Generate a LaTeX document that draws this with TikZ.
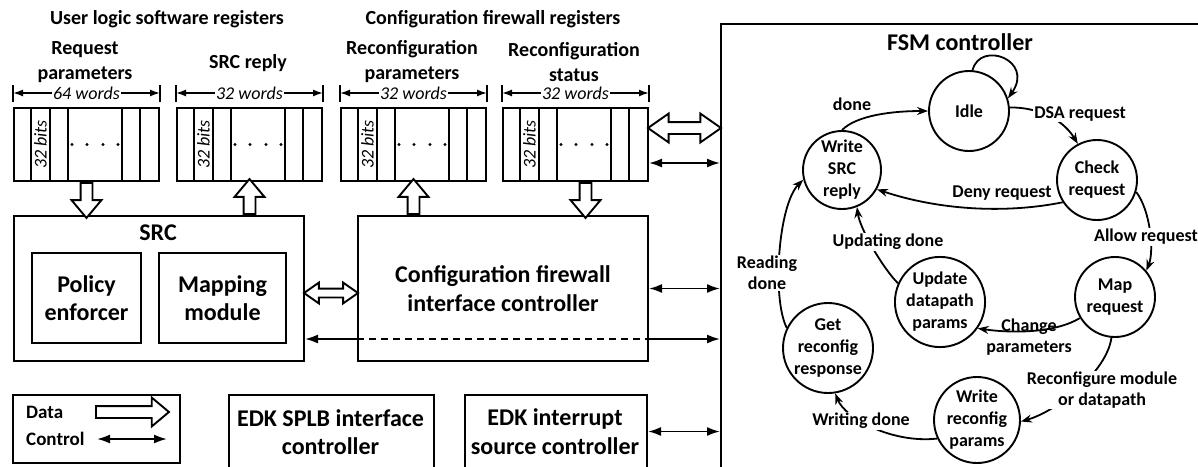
\documentclass[tikz,border=0pt]{standalone}
\usepackage{fontspec}
\setmainfont{Carlito}
\usetikzlibrary{shapes.arrows, arrows.meta, calc}

\newcommand\regis[3]{%
  \node[regbox, anchor=north west] (#1) at (#2,107) {};
  \foreach \o in {18.3,36.6,55,109,127.3}
    \draw[regline] ($(#1.north west)+(\o,0)$) -- ($(#1.south west)+(\o,0)$);
  \foreach \o in {59,74,90,105}
    \fill ($(#1.west)+(\o,0)$) circle (1.6);
  \node[bits, rotate=90] (#1bits) at ($(#1.west)+(27.5,0)$) {32 bits};
  \draw[regline] ($(#1.north west)+(0,-5)$) -- ($(#1.north west)+(0,-22)$);
  \draw[regline] ($(#1.north east)+(0,-5)$) -- ($(#1.north east)+(0,-22)$);
  \draw[dim] ($(#1.north west)+(0,-14)$) -- ($(#1.north east)+(0,-14)$)
     node[midway, words] (#1w) {#3};
}

\begin{document}
\begin{tikzpicture}[x=1pt,y=-1pt,
  box/.style={draw, line width=2pt, inner sep=0pt},
  regbox/.style={draw, line width=2pt, minimum width=145pt, minimum height=73pt, inner sep=0pt},
  regline/.style={line width=1.9pt},
  lbl/.style={font=\fontsize{20}{25}\selectfont\bfseries, align=center, inner sep=0pt},
  boxtxt/.style={font=\fontsize{24}{28.5}\selectfont\bfseries, align=center, inner sep=0pt},
  words/.style={font=\fontsize{18}{20}\selectfont\itshape, fill=white, inner xsep=1pt, inner ysep=0pt},
  bits/.style={font=\fontsize{18}{20}\selectfont\itshape, inner sep=0pt},
  dim/.style={line width=1.6pt, {Latex[length=10pt,width=7pt]}-{Latex[length=10pt,width=7pt]}},
  ctrl/.style={line width=1.9pt, {Latex[length=13pt,width=9pt]}-{Latex[length=13pt,width=9pt]}},
  fat/.style={single arrow, draw, line width=1.9pt, fill=white, inner xsep=0pt, inner ysep=5pt,
     single arrow head extend=9pt, single arrow head indent=0pt, single arrow tip angle=80},
  fatd/.style={double arrow, draw, line width=1.9pt, fill=white, inner xsep=0pt,
     double arrow head indent=0pt, double arrow tip angle=70},
  state/.style={circle, draw, line width=1.9pt, font=\fontsize{18}{22}\selectfont\bfseries, align=center, inner sep=0pt},
  edge/.style={line width=1.8pt, -{Stealth[length=11pt,width=8pt]}},
  elbl/.style={font=\fontsize{18}{21}\selectfont\bfseries, align=center, inner sep=1pt},
  elblw/.style={elbl, fill=white}]
\useasboundingbox (0,0) rectangle (1198,466);

% titles
\node[lbl] (t1) at (167,19) {User logic software registers};
\node[lbl] (t2) at (493,19) {Configuration firewall registers};
\node[lbl] (lreq) at (85,62) {Request\\parameters};
\node[lbl] (lsr) at (248,63) {SRC reply};
\node[lbl] (lrcp) at (412,62) {Reconfiguration\\parameters};
\node[lbl] (lrcs) at (574,62) {Reconfiguration\\status};

% registers
\regis{req}{13}{64 words}
\regis{srr}{176}{32 words}
\regis{rcp}{340}{32 words}
\regis{rcs}{502}{32 words}

% SRC
\node[box, anchor=north west, minimum width=290pt, minimum height=145pt] (src) at (13,215) {};
\node[boxtxt] (srct) at (158,233) {SRC};
\node[box, anchor=north west, minimum width=109pt, minimum height=90pt, boxtxt] (pol) at (31,252) {Policy\\enforcer};
\node[box, anchor=north west, minimum width=127pt, minimum height=90pt, boxtxt] (map) at (158,252) {Mapping\\module};

% CFIC
\node[box, anchor=north west, minimum width=290pt, minimum height=145pt, boxtxt] (cfic) at (357,215) {Configuration firewall\\interface controller};

% legend
\node[box, anchor=north west, line width=1.5pt, minimum width=167pt, minimum height=68pt] (leg) at (12,394) {};
\node[lbl, font=\fontsize{19}{22}\selectfont\bfseries, anchor=west] (ldata) at (26,412) {Data};
\node[lbl, font=\fontsize{19}{22}\selectfont\bfseries, anchor=west] (lctrl) at (26,439) {Control};
\node[fat, inner ysep=5pt, single arrow head extend=8.5pt, anchor=tail, minimum height=73pt] (legdata) at (95,412) {};
\coordinate (lca) at (97,439);
\coordinate (lcb) at (167,439);
\draw[ctrl] (lca) -- (lcb);

% EDK boxes
\node[box, anchor=north west, minimum width=205pt, minimum height=100pt] (splbbox) at (228,394) {};
\node[boxtxt] (splb) at (330.5,432) {EDK SPLB interface\\controller};
\node[box, anchor=north west, minimum width=182pt, minimum height=100pt] (edkibox) at (464,394) {};
\node[boxtxt] (edki) at (555,431.5) {EDK interrupt\\source controller};

% FSM box
\node[box, line width=2.3pt, anchor=north west, minimum width=600pt, minimum height=500pt] (fsm) at (720,23) {};
\node[boxtxt] (fsmt) at (960,42) {FSM controller};

% data arrows
\node[fat, rotate=-90, anchor=tail, minimum height=35pt] (da1) at (req.south) {};
\node[fat, rotate=90, anchor=tail, minimum height=35pt] (da2) at (src.north -| srr.south) {};
\node[fat, rotate=90, anchor=tail, minimum height=35pt] (da3) at (cfic.north -| rcp.south) {};
\node[fat, rotate=-90, anchor=tail, minimum height=35pt] (da4) at ($(rcs.south)+(10,0)$) {};
\coordinate (dd1) at ($(rcs.east)+(0,-16.5)$);
\coordinate (dd2) at (dd1 -| fsm.west);
\node[fatd, inner ysep=5pt, double arrow head extend=8.5pt, minimum height=73pt] (da5) at ($(dd1)!0.5!(dd2)$) {};
\coordinate (dd3) at ($(src.east)+(0,4.5)$);
\coordinate (dd4) at (dd3 -| cfic.west);
\node[fatd, inner ysep=3.5pt, double arrow head extend=6pt, minimum height=54pt] (da6) at ($(dd3)!0.5!(dd4)$) {};

% control arrows
\coordinate (c1) at ($(rcs.east)+(0,18.5)$);
\draw[ctrl] (c1) -- (c1 -| fsm.west);
\draw[ctrl] (cfic.east) -- (cfic.east -| fsm.west);
\coordinate (d1) at ($(src.south east)+(0,-23)$);
\draw[line width=1.9pt, {Latex[length=13pt,width=9pt]}-] (d1) -- (d1 -| cfic.west);
\draw[line width=1.9pt, dash pattern=on 7pt off 5pt] (d1 -| cfic.west) -- (d1 -| cfic.east);
\draw[line width=1.9pt, -{Latex[length=13pt,width=9pt]}] (d1 -| cfic.east) -- (d1 -| fsm.west);
\draw[ctrl] (edkibox.east |- edki) -- (edki -| fsm.west);

% states
\node[state, minimum size=80pt] (idle) at (969,111) {Idle};
\node[state, minimum size=80pt] (check) at (1097,180) {Check\\request};
\node[state, minimum size=78pt] (wsrc) at (842,170) {Write\\SRC\\reply};
\node[state, minimum size=80pt] (mapr) at (1115,297) {Map\\request};
\node[state, minimum size=80pt] (upd) at (940,302) {Update\\datapath\\params};
\node[state, minimum size=90pt] (get) at (828,348) {Get\\reconfig\\response};
\node[state, minimum size=86pt] (wrc) at (977,420) {Write\\reconfig\\params};

% transitions
\draw[edge] (idle.85) .. controls (980,40) and (1035,60) .. (idle.18);
\draw[edge] (wsrc.north) .. controls +(15,-15) and +(-35,0) .. (idle.west);
\node[elbl] (ldone) at (852,104) {done};
\draw[edge] (idle.5) .. controls +(35,0) and +(-12,-20) .. (check.118);
\node[elblw] (ldsa) at (1080,114) {DSA request};
\draw[edge] (check.213) .. controls +(-60,12) and +(60,20) .. (wsrc.-29);
\node[elbl] (ldeny) at (1002,193) {Deny request};
\draw[edge] (check.-17) .. controls +(14,18) and +(8,-20) .. (mapr.40);
\node[elblw] (lallow) at (1146,237) {Allow request};
\draw[edge] (mapr.211) .. controls +(-25,15) and +(35,5) .. (upd.-35);
\node[elbl] (lchange) at (1029,337) {Change\\parameters};
\draw[edge] (mapr.265) .. controls +(-5,35) and +(35,-10) .. (wrc.-2);
\node[elblw] (lreconf) at (1102,390) {Reconfigure module\\or datapath};
\draw[edge] (wrc.205) .. controls +(-45,5) and +(10,25) .. (get.-81);
\node[elblw] (lwrite) at (861,421) {Writing done};
\draw[edge] (upd.156) .. controls +(-15,-15) and +(3,22) .. (wsrc.-68);
\node[elblw] (lupd) at (888,242) {Updating done};
\draw[edge] (get.154) .. controls +(-15,-30) and +(-25,25) .. (wsrc.194);
\node[elblw] (lread) at (767,273) {Reading\\done};
\end{tikzpicture}
\end{document}
